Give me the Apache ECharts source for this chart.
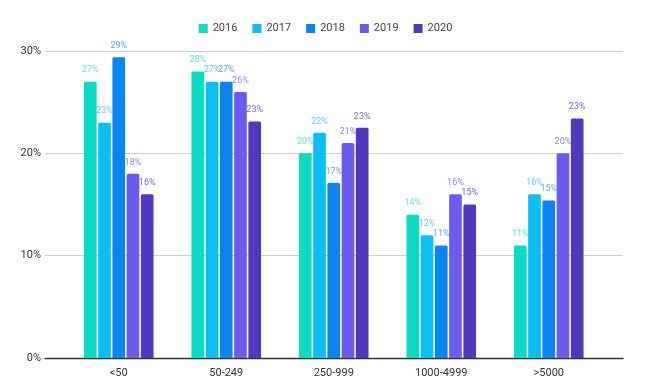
<!DOCTYPE html>
<html><head><meta charset="utf-8">
<script src="https://cdn.jsdelivr.net/npm/echarts@6/dist/echarts.min.js"></script>
<style>html,body{margin:0;padding:0;background:#fff}#c{width:651px;height:385px}</style>
</head><body><div id="c"></div>
<script>
const categories = ['<50', '50-249', '250-999', '1000-4999', '>5000'];
const years = ['2016', '2017', '2018', '2019', '2020'];
const v2016 = [27, 28, 20, 14, 11];
const v2017 = [23, 27, 22, 12, 16];
const v2018 = [29.4, 27, 17.1, 11, 15.4];
const v2019 = [18, 26, 21, 16, 20];
const v2020 = [16, 23.1, 22.5, 15, 23.4];
const yTicks = [0, 10, 20, 30];

const seriesValues = [v2016, v2017, v2018, v2019, v2020];
const barColors = ['#0bdac4', '#0bbef5', '#0b84f3', '#6b5ced', '#5138bd'];
const labelColors = ['#5fe3d4', '#5bcff6', '#5aa6f3', '#8f85ee', '#7a68cc'];

const chart = echarts.init(document.getElementById('c'), null, {renderer: 'canvas'});
const font = 'Roboto, "Liberation Sans", sans-serif';

const series = years.map((y, i) => ({
  name: y,
  type: 'bar',
  xAxisIndex: 1,
  yAxisIndex: 1,
  data: seriesValues[i],
  barWidth: 12.7,
  barGap: '12%',
  itemStyle: {color: barColors[i], borderRadius: [1.5, 1.5, 0, 0]},
  label: {
    show: true,
    position: 'top',
    distance: 7,
    color: labelColors[i],
    fontSize: 9,
    fontFamily: font,
    formatter: p => Math.round(p.value) + '%'
  }
}));

chart.setOption({
  animation: false,
  backgroundColor: '#fff',
  legend: {
    data: years,
    top: 18,
    left: 'center',
    itemWidth: 9,
    itemHeight: 9,
    itemGap: 15,
    icon: 'rect',
    textStyle: {color: '#444', fontSize: 11, fontFamily: font}
  },
  grid: [
    {left: 45, right: 28, top: 51, bottom: 27},
    {left: 65, right: 48.5, top: 51, bottom: 27}
  ],
  xAxis: [
    {
      gridIndex: 0, type: 'value', min: 0, max: 1,
      axisLine: {show: true, onZero: false, lineStyle: {color: '#333', width: 1.3}},
      axisTick: {show: false}, axisLabel: {show: false}, splitLine: {show: false}
    },
    {
      gridIndex: 1, type: 'category', data: categories,
      axisLine: {show: false}, axisTick: {show: false},
      axisLabel: {color: '#333', fontSize: 11, fontFamily: font, margin: 10}
    }
  ],
  yAxis: [
    {
      gridIndex: 0, type: 'value', min: 0, max: 30, interval: 10,
      axisLine: {show: false}, axisTick: {show: false},
      axisLabel: {color: '#333', fontSize: 11, fontFamily: font, margin: 4,
        formatter: v => yTicks.includes(v) ? v + '%' : ''},
      splitLine: {lineStyle: {color: '#cccccc', width: 1}}
    },
    {
      gridIndex: 1, type: 'value', min: 0, max: 30, interval: 10,
      axisLine: {show: false}, axisTick: {show: false},
      axisLabel: {show: false}, splitLine: {show: false}
    }
  ],
  series: series
});
</script></body></html>
